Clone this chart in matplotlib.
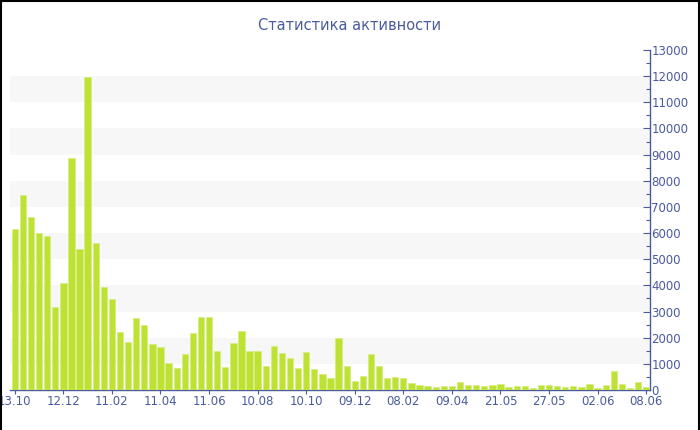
import matplotlib
matplotlib.use("Agg")
import matplotlib.pyplot as plt
from matplotlib.lines import Line2D
from matplotlib.ticker import MultipleLocator

values = [6170, 7440, 6630, 6000, 5880, 3170, 4100, 8860, 5390, 11980,
          5630, 3930, 3470, 2230, 1820, 2750, 2500, 1760, 1630, 1030,
          840, 1380, 2170, 2790, 2790, 1480, 890, 1790, 2250, 1490,
          1490, 930, 1680, 1430, 1240, 860, 1450, 790, 600, 460,
          2000, 930, 340, 520, 1380, 900, 460, 480, 440, 250,
          190, 150, 110, 140, 170, 290, 190, 190, 150, 180,
          230, 110, 140, 150, 80, 180, 200, 150, 100, 170,
          110, 220, 90, 180, 710, 220, 90, 320, 110]
tick_labels = ["13.10", "12.12", "11.02", "11.04", "11.06", "10.08", "10.10",
               "09.12", "08.02", "09.04", "21.05", "27.05", "02.06", "08.06"]
tick_step = 6
title = "Статистика активности"

blue = "#4a5a9e"
bar_color = "#bde234"

fig = plt.figure(figsize=(7, 4.3), dpi=100)
ax = fig.add_axes([10/700, 40/430, 640/700, 340/430])

x = list(range(len(values)))
ax.bar(x, values, width=0.78, color=bar_color, edgecolor="#d4ee7a", linewidth=0.4, zorder=3)

ax.set_ylim(0, 13000)
ax.set_xlim(-0.59, len(values) - 1 + 0.47)

for lo in range(1000, 13000, 2000):
    ax.axhspan(lo, lo + 1000, color="#f7f7f7", zorder=0, linewidth=0)

ax.yaxis.tick_right()
ax.yaxis.set_major_locator(MultipleLocator(1000))
ax.yaxis.set_minor_locator(MultipleLocator(500))
ax.tick_params(axis="y", which="major", direction="in", length=5, width=0.8,
               color=blue, labelcolor=blue, labelsize=8.5, pad=1)
ax.tick_params(axis="y", which="minor", direction="in", length=3, width=0.8, color=blue)

ticks = list(range(0, len(values), tick_step))
ax.set_xticks(ticks)
ax.set_xticklabels(tick_labels)
ax.tick_params(axis="x", direction="out", length=3, width=0.8, color=blue,
               labelcolor=blue, labelsize=8.5, pad=0.5)

for s in ["top", "left"]:
    ax.spines[s].set_visible(False)
ax.spines["right"].set_color(blue)
ax.spines["bottom"].set_color(blue)
ax.spines["right"].set_linewidth(1)
ax.spines["bottom"].set_linewidth(1)

fig.text(0.5, 1 - 25/430, title, ha="center", va="center", color=blue, fontsize=10.5)

# figure border: top, left and right edges
lx, rx, ty = 0.8/700, 1 - 1.2/700, 1 - 0.8/430
for xs, ys in [([lx, rx], [ty, ty]), ([lx, lx], [0, ty]), ([rx, rx], [0, ty])]:
    fig.add_artist(Line2D(xs, ys, transform=fig.transFigure, color="black", linewidth=1.5))

fig.savefig("out.png", dpi=100)
